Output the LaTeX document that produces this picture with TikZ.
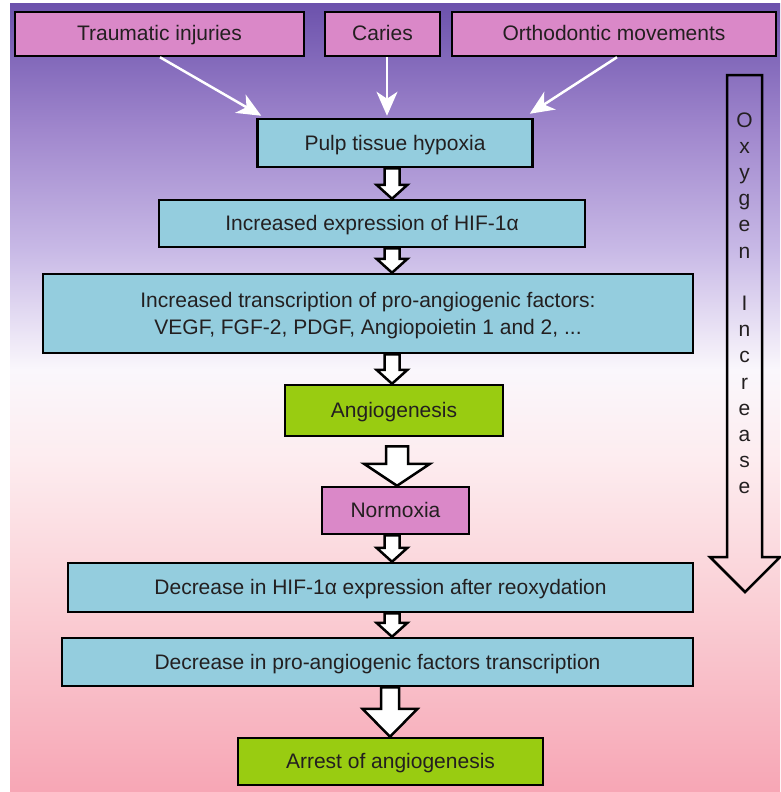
\documentclass[tikz,border=0pt]{standalone}
\usepackage{fontspec}
\setmainfont{Liberation Sans}
\usetikzlibrary{calc,arrows.meta}
\definecolor{pinkbox}{RGB}{218,136,200}
\definecolor{cyanbox}{RGB}{148,205,222}
\definecolor{greenbox}{RGB}{153,204,17}
\definecolor{txt}{RGB}{35,31,32}
\definecolor{bga}{RGB}{108,82,172}
\definecolor{bgb}{RGB}{160,135,205}
\definecolor{bgc}{RGB}{200,185,230}
\definecolor{bgd}{RGB}{250,247,252}
\definecolor{bge}{RGB}{253,236,239}
\definecolor{bgf}{RGB}{250,208,214}
\definecolor{bgg}{RGB}{247,166,181}
\pgfdeclareverticalshading{bgshade}{100bp}{color(0bp)=(bgg); color(25bp)=(bgg); color(37.2bp)=(bgf); color(46.1bp)=(bge); color(51.8bp)=(bgd); color(59.4bp)=(bgc); color(67bp)=(bgb); color(75bp)=(bga); color(100bp)=(bga)}
\tikzset{
  box/.style={draw=black, line width=2.5pt, inner sep=0pt, align=center, text=txt,
    text height=17pt, text depth=3pt,
    font=\fontsize{21}{27}\selectfont},
  pinkb/.style={box, fill=pinkbox},
  cyanb/.style={box, fill=cyanbox},
  greenb/.style={box, fill=greenbox},
  thinarrow/.style={draw=white, line width=2.5pt, -{Stealth[length=24pt,width=21pt,inset=7pt]}},
  blockarrow/.style={draw=black, fill=white, line width=2.5pt, line join=miter},
  oxyarrow/.style={draw=black, line width=2.5pt, line join=miter},
  letter/.style={anchor=base, inner sep=0pt, text=txt, font=\fontsize{21}{24}\selectfont}
}
% #1 x centre, #2 start point, #3 tip point, #4 shaft half width, #5 head half width, #6 head length
\newcommand\blockarr[6]{%
  \draw[blockarrow] let \p1=(#2), \p2=(#3) in
    (#1pt-#4pt,\y1) -- (#1pt+#4pt,\y1) -- (#1pt+#4pt,\y2+#6pt) -- (#1pt+#5pt,\y2+#6pt)
    -- (#1pt,\y2) -- (#1pt-#5pt,\y2+#6pt) -- (#1pt-#4pt,\y2+#6pt) -- cycle;}
\begin{document}
\begin{tikzpicture}[x=1pt,y=-1pt]
\useasboundingbox (0,0) rectangle (780,792);
\fill[white] (0,0) rectangle (780,792);
\shade[shading=bgshade] (10,4) rectangle (780,792);

% top causes
\node[pinkb, minimum width=289pt, minimum height=44pt] (trauma) at (159.5,34) {Traumatic injuries};
\node[pinkb, minimum width=115pt, minimum height=44pt] (caries) at (382.5,34) {Caries};
\node[pinkb, minimum width=324pt, minimum height=44pt] (ortho) at (614,34) {Orthodontic movements};

% main chain
\node[cyanb, minimum width=275pt, minimum height=48pt] (pulp) at (395,143) {Pulp tissue hypoxia};
\node[cyanb, minimum width=426pt, minimum height=47pt] (hif) at (372,223.5) {Increased expression of HIF-1α};
\node[cyanb, minimum width=650pt, minimum height=79pt, text height=44pt] (trans) at (368,313.5)
  {Increased transcription of pro-angiogenic factors:\\VEGF, FGF-2, PDGF, Angiopoietin 1 and 2, ...};
\node[greenb, minimum width=218pt, minimum height=51pt] (angio) at (394,410.5) {Angiogenesis};
\node[pinkb, minimum width=147pt, minimum height=47pt] (normo) at (395.5,510.5) {Normoxia};
\node[cyanb, minimum width=625pt, minimum height=49pt] (dechif) at (380.5,587.5) {Decrease in HIF-1α expression after reoxydation};
\node[cyanb, minimum width=631pt, minimum height=48pt] (decpro) at (377.5,662) {Decrease in pro-angiogenic factors transcription};
\node[greenb, minimum width=305pt, minimum height=47pt] (arrest) at (390.5,761.5) {Arrest of angiogenesis};

% thin white arrows
\draw[thinarrow] ($(trauma.south)+(0.5,0)$) -- ($(pulp.north west)+(5,-2)$);
\draw[thinarrow] ($(caries.south)+(4.5,0)$) -- ($(pulp.north)+(-8,-2)$);
\draw[thinarrow] ($(ortho.south)+(3,0)$) -- ($(pulp.north east)+(-4,-4)$);

% block arrows
\blockarr{392}{pulp.south}{hif.north}{7.5}{15.5}{14}
\blockarr{392}{hif.south}{trans.north}{7.5}{15.5}{14}
\blockarr{392}{trans.south}{angio.north}{7.5}{15.5}{14}
\blockarr{397}{$(angio.south)+(0,9)$}{normo.north}{11}{33}{22}
\blockarr{392}{normo.south}{dechif.north}{7.5}{15.5}{14}
\blockarr{392}{dechif.south}{decpro.north}{7.5}{15.5}{14}
\blockarr{390}{decpro.south}{arrest.north}{9}{27.5}{28}

% oxygen increase arrow (outline only, background shows through)
\draw[oxyarrow] (727,75) -- (762,75) -- (762,557) -- (780,557) -- (745,592) -- (710,557) -- (727,557) -- cycle;
\foreach \ch [count=\i] in {O,x,y,g,e,n,{},I,n,c,r,e,a,s,e}
  \node[letter] (oxy\i) at (744.5,{127+(\i-1)*26.2}) {\ch};
\end{tikzpicture}
\end{document}
